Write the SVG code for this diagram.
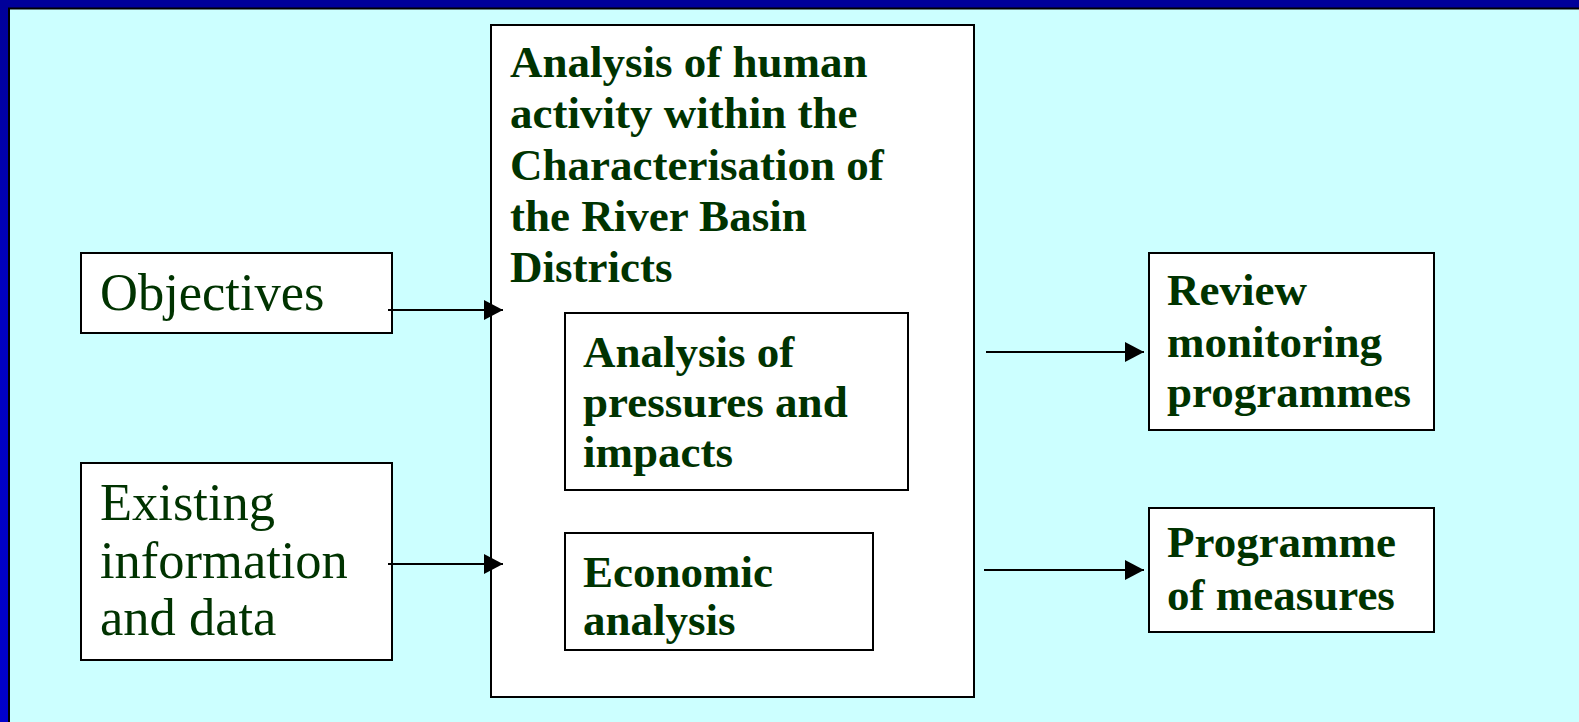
<svg xmlns="http://www.w3.org/2000/svg" width="1579" height="722" viewBox="0 0 1579 722">
<defs>
<linearGradient id="lg" x1="0" y1="0" x2="0" y2="1">
<stop offset="0" stop-color="#000099"/>
<stop offset="0.4" stop-color="#0000c0"/>
<stop offset="1" stop-color="#0000cc"/>
</linearGradient>
<marker id="ah" markerWidth="20" markerHeight="20" viewBox="0 0 20 20" refX="19" refY="10" orient="auto" markerUnits="userSpaceOnUse">
<path d="M0,0 L19,10 L0,20 Z" fill="#000"/>
</marker>
<style>
.box{fill:#fff;stroke:#000;stroke-width:2}
.b{font-family:"Liberation Serif","Times New Roman",serif;font-weight:bold;font-size:45px;fill:#003300}
.r{font-family:"Liberation Serif","Times New Roman",serif;font-size:52.5px;fill:#003300}
.c{stroke:#000;stroke-width:2;fill:none;marker-end:url(#ah)}
</style>
</defs>
<rect x="0" y="0" width="1579" height="722" fill="#ccffff"/>
<rect x="0" y="0" width="9" height="722" fill="url(#lg)"/>
<rect x="0" y="0" width="1579" height="8" fill="#000099"/>
<rect x="8" y="7.5" width="1571" height="2" fill="#000"/>
<rect x="8" y="8" width="2" height="714" fill="#000"/>

<g id="objectives">
<rect class="box" x="81" y="253" width="311" height="80"/>
<text class="r" x="100" y="310">Objectives</text>
</g>
<g id="existing">
<rect class="box" x="81" y="463" width="311" height="197"/>
<text class="r" x="100" y="520">Existing</text>
<text class="r" x="100" y="578">information</text>
<text class="r" x="100" y="635">and data</text>
</g>
<g id="characterisation">
<rect class="box" x="491" y="25" width="483" height="672"/>
<text class="b" x="510" y="77">Analysis of human</text>
<text class="b" x="510" y="128">activity within the</text>
<text class="b" x="510" y="180">Characterisation of</text>
<text class="b" x="510" y="231">the River Basin</text>
<text class="b" x="510" y="282">Districts</text>
</g>
<g id="pressures">
<rect class="box" x="565" y="313" width="343" height="177"/>
<text class="b" x="583" y="367">Analysis of</text>
<text class="b" x="583" y="417">pressures and</text>
<text class="b" x="583" y="467">impacts</text>
</g>
<g id="economic">
<rect class="box" x="565" y="533" width="308" height="117"/>
<text class="b" x="583" y="587">Economic</text>
<text class="b" x="583" y="635">analysis</text>
</g>
<g id="review">
<rect class="box" x="1149" y="253" width="285" height="177"/>
<text class="b" x="1167" y="305">Review</text>
<text class="b" x="1167" y="357">monitoring</text>
<text class="b" x="1167" y="407">programmes</text>
</g>
<g id="programme">
<rect class="box" x="1149" y="508" width="285" height="124"/>
<text class="b" x="1167" y="557">Programme</text>
<text class="b" x="1167" y="610">of measures</text>
</g>
<g id="connectors">
<line class="c" x1="388" y1="310" x2="503" y2="310"/>
<line class="c" x1="388" y1="564" x2="503" y2="564"/>
<line class="c" x1="986" y1="352" x2="1144" y2="352"/>
<line class="c" x1="984" y1="570" x2="1144" y2="570"/>
</g>
</svg>
